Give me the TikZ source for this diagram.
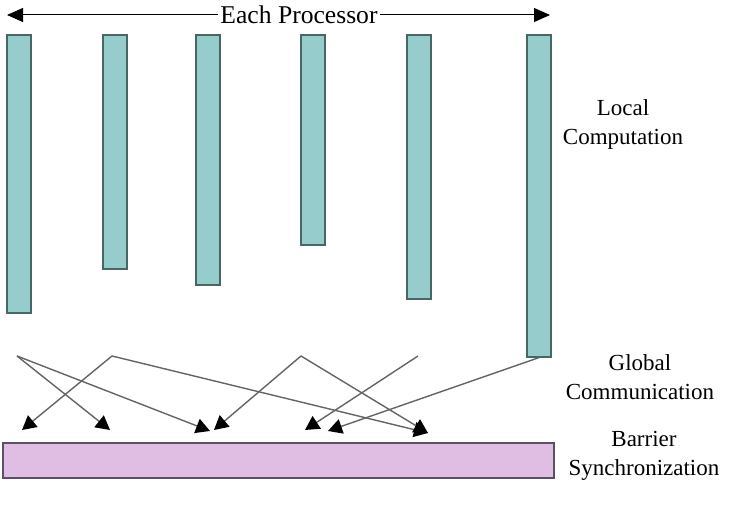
\documentclass[tikz,border=0pt]{standalone}
\usepackage{fontspec}
\setmainfont{Liberation Serif}
\usetikzlibrary{arrows.meta}
\definecolor{barteal}{RGB}{150, 205, 204}
\definecolor{baredge}{RGB}{72, 102, 100}
\definecolor{syncpink}{RGB}{224, 190, 228}
\definecolor{syncedge}{RGB}{92, 80, 100}
\definecolor{msggray}{RGB}{100, 100, 100}

\begin{document}
\begin{tikzpicture}[x=0.5pt, y=-0.5pt,
    procbar/.style={draw=baredge, fill=barteal, line width=0.8pt, minimum width=12pt, inner sep=0pt, anchor=north},
    msg/.style={draw=msggray, line width=0.7pt, -{Triangle[length=7pt, width=7.5pt, color=black]}},
    sidetext/.style={font=\fontsize{11.5}{14.5}\selectfont, align=center, inner sep=0pt}]
    \useasboundingbox (0,0) rectangle (751,512);
    % Each Processor
    \coordinate (wl) at (7,15);
    \coordinate (wr) at (550,15);
    \draw[line width=0.5pt, {Triangle[length=8pt, width=7pt]}-{Triangle[length=8pt, width=7pt]}] (wl) -- (wr);
    \node[fill=white, inner sep=1pt, font=\fontsize{12.8}{15}\selectfont] (title) at (299,15) {Each Processor};
    % Local Computation
    \node[procbar, minimum height=139pt] (p1) at ( 19,34) {};
    \node[procbar, minimum height=117pt] (p2) at (115,34) {};
    \node[procbar, minimum height=125pt] (p3) at (208,34) {};
    \node[procbar, minimum height=105pt] (p4) at (313,34) {};
    \node[procbar, minimum height=132pt] (p5) at (419,34) {};
    \node[procbar, minimum height=161pt] (p6) at (539,34) {};
    % Global Communication
    \coordinate (a) at ( 17,356);
    \coordinate (b) at (112,356);
    \coordinate (c) at (301,356);
    \coordinate (d) at (418,356);
    \coordinate (t1) at ( 22,430);
    \coordinate (t2) at (110,430);
    \coordinate (t3) at (210,431);
    \coordinate (t4) at (214,430);
    \coordinate (t5) at (305,430);
    \coordinate (t6) at (328,431);
    \coordinate (t7) at (428,433);
    \draw[msg] (a) -- (t2);
    \draw[msg] (a) -- (t3);
    \draw[msg] (b) -- (t1);
    \draw[msg] (b) -- (t7);
    \draw[msg] (c) -- (t4);
    \draw[msg] (c) -- (t7);
    \draw[msg] (d) -- (t5);
    \draw[msg] (p6.south) -- (t6);
    % Barrier Synchronization
    \node[draw=syncedge, fill=syncpink, line width=0.8pt, minimum width=275.5pt, minimum height=17.5pt, inner sep=0pt] (sync) at (278.5,460.5) {};
    % Labels
    \node[sidetext] (local) at (623,124) {Local\\Computation};
    \node[sidetext] (global) at (640,377) {Global\\Communication};
    \node[sidetext] (barrier) at (644,456) {Barrier\\Synchronization};
\end{tikzpicture}
\end{document}
